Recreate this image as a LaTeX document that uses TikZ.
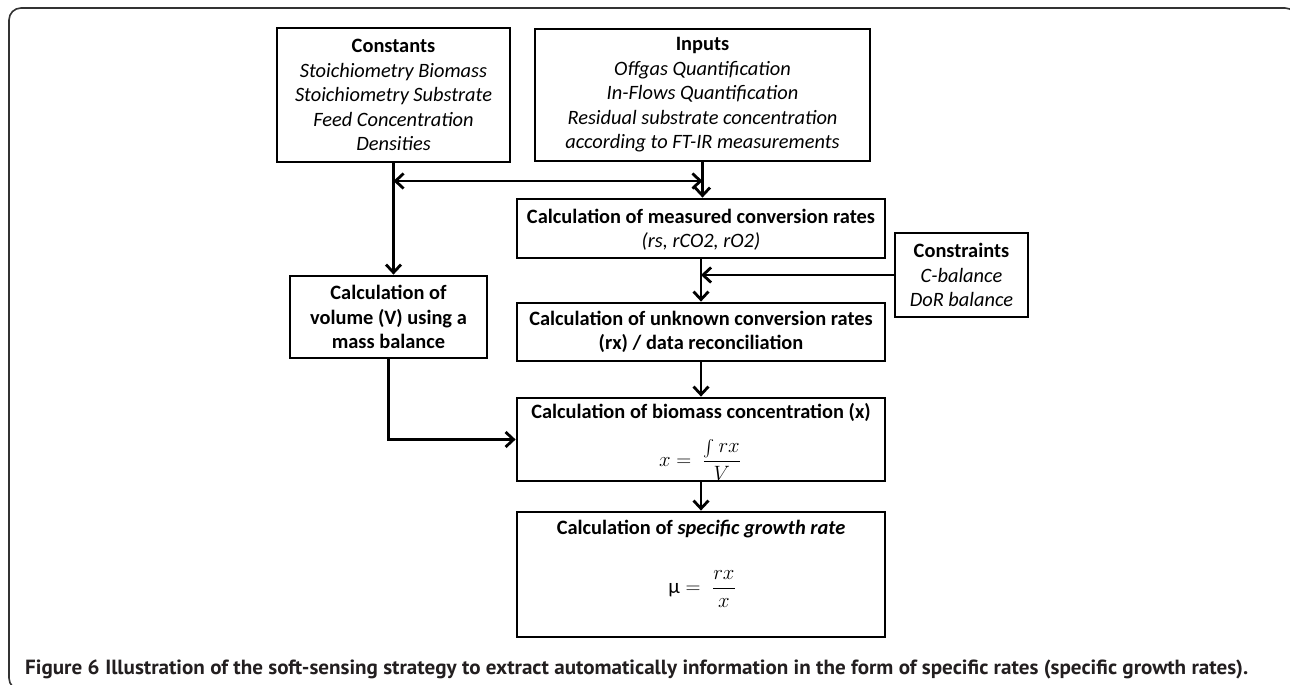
\documentclass[tikz,border=0pt]{standalone}
\usepackage{amsmath}
\usepackage{graphicx}
\usepackage{fontspec}
\setmainfont{Carlito}
\newfontfamily\capfont{PT Sans}
\usetikzlibrary{arrows.meta}
\definecolor{captext}{HTML}{231F20}
\tikzset{
  box/.style={draw, line width=2.8pt, inner sep=0pt, rectangle},
  txt/.style={align=center, inner sep=0pt, font=\fontsize{20.4}{24.5}\selectfont},
  mtxt/.style={align=center, inner sep=0pt, font=\fontsize{21}{24}\selectfont},
  conn/.style={line width=2.8pt, -{Straight Barb[length=8pt,width=15pt]}},
  dconn/.style={line width=2.8pt, {Straight Barb[length=8pt,width=15pt]}-{Straight Barb[length=8pt,width=15pt]}},
  frame/.style={line width=1.6pt, rounded corners=12pt, draw=black!80},
}
\begin{document}
\begin{tikzpicture}[x=1pt,y=-1pt]
\useasboundingbox (0,0) rectangle (1290,685);
\clip (0,0) rectangle (1290,685);
\fill[white] (0,0) rectangle (1290,685);
\draw[frame] (9,8) rectangle (1297,690);

% boxes
\node[box, minimum width=233pt, minimum height=134pt] (const) at (393.5,95) {};
\node[txt] (constt) at (393.5,95) {\textbf{Constants}\\ \textit{Stoichiometry Biomass}\\ \textit{Stoichiometry Substrate}\\ \textit{Feed Concentration}\\ \textit{Densities}};

\node[box, minimum width=335pt, minimum height=132pt] (inp) at (702.5,95) {};
\node[txt] (inpt) at (702.5,95) {\textbf{Inputs}\\ \textit{Offgas Quantification}\\ \textit{In-Flows Quantification}\\ \textit{Residual substrate concentration}\\ \textit{according to FT-IR measurements}};

\node[box, minimum width=368pt, minimum height=59pt] (meas) at (701,228.5) {};
\node[txt] (meast) at (701,229.5) {\textbf{Calculation of measured conversion rates}\\ \textit{(rs, rCO2, rO2)}};

\node[box, minimum width=133pt, minimum height=84pt] (cons) at (961.5,275) {};
\node[txt] (const2) at (961.5,275) {\textbf{Constraints}\\ \textit{C-balance}\\ \textit{DoR balance}};

\node[box, minimum width=368pt, minimum height=58pt] (unk) at (701,332) {};
\node[txt] (unkt) at (701,332) {\textbf{Calculation of unknown conversion rates}\\ \textbf{(rx) / data reconciliation}};

\node[box, minimum width=197pt, minimum height=82pt] (vol) at (388.5,317) {};
\node[txt] (volt) at (388.5,317) {\textbf{Calculation of}\\ \textbf{volume (V) using a}\\ \textbf{mass balance}};

\node[box, minimum width=368pt, minimum height=83pt] (bio) at (701,439.5) {};
\node[txt] (biot) at (701,412) {\textbf{Calculation of biomass concentration (x)}};
\node[mtxt] (biom) at (700,460) {$x =\; \dfrac{\scalebox{0.8}{$\textstyle\int$}\, rx}{V}$};

\node[box, minimum width=368pt, minimum height=125pt] (grow) at (701,574.5) {};
\node[txt] (growt) at (701,529) {\textbf{Calculation of \textit{specific growth rate}}};
\node[mtxt] (growm) at (702,589) {$\text{μ} =\; \dfrac{rx}{x}$};

% connectors
\coordinate (dl) at (393.5,181);
\coordinate (dr) at (702.5,181);
\draw[conn] (const.south) -- (const.south |- vol.north);
\draw[conn] (inp.south) -- (inp.south |- meas.north);
\draw[dconn] (dl) -- (dr);
\draw[conn] (meas.south) -- (unk.north);
\draw[conn] (cons.west) -- (cons.west -| meas.south);
\draw[conn] (unk.south) -- (bio.north);
\draw[conn] (vol.south) |- (bio.west);
\draw[conn] (bio.south) -- (grow.north);

% caption
\node[anchor=base west, inner sep=0pt, text=captext] (cap) at (25,674) {\resizebox{1223pt}{\height}{\capfont\fontsize{20.5}{24}\selectfont\textbf{Figure 6} \textbf{Illustration of the soft-sensing strategy to extract automatically information in the form of specific rates (specific growth rates).}}};
\end{tikzpicture}
\end{document}
